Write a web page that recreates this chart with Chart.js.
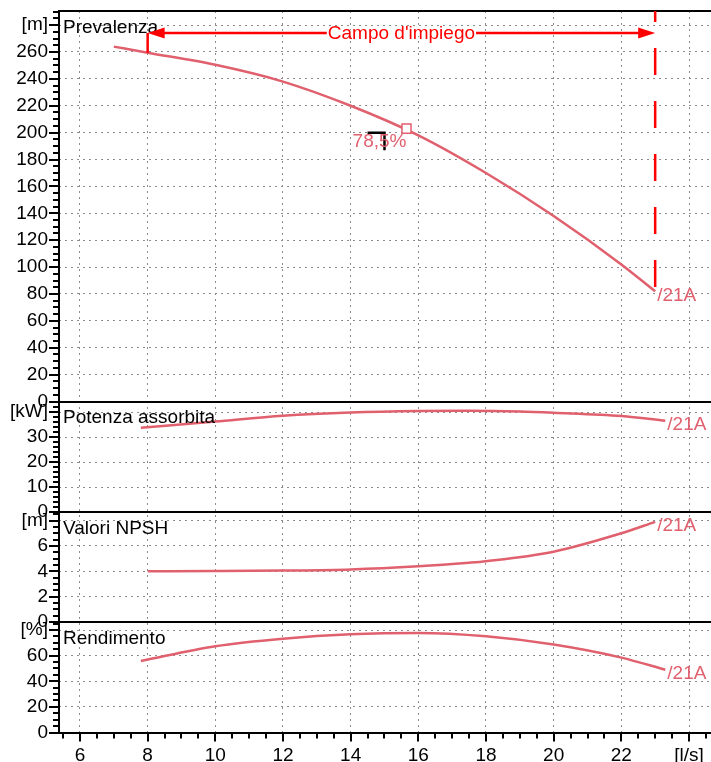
<!DOCTYPE html>
<html>
<head>
<meta charset="utf-8">
<script src="https://cdn.jsdelivr.net/npm/chart.js@4.4.1/dist/chart.umd.min.js"></script>
<style>
  html, body { margin: 0; padding: 0; background: #fff; }
  canvas { display: block; }
</style>
</head>
<body>
<canvas id="grafico" width="711" height="762"></canvas>
<script>
// Curve (portata in l/s)
const portataH = [7, 8, 10, 12, 14, 16, 18, 20, 22, 23];
const prevalenza = [264, 259.5, 250.5, 238, 220, 198, 170, 138, 102, 82];

const portataP = [7.8, 10, 12, 14, 16, 17.5, 19, 20, 22, 23.3];
const potenza = [33.7, 36.2, 38.5, 39.8, 40.4, 40.5, 40.2, 39.7, 38.4, 36.5];

const portataN = [8, 10, 12, 14, 16, 17.5, 18, 20, 22, 23];
const npsh = [4.0, 4.02, 4.06, 4.15, 4.4, 4.68, 4.8, 5.55, 7.0, 7.9];

const portataR = [7.8, 10, 12, 14, 16, 18, 20, 22, 23.3];
const rendimento = [55.9, 67.4, 73.3, 76.7, 77.7, 75.1, 68.7, 58.5, 49];

// Punto di miglior rendimento e squadretta nera
const bepQ = [15.65];
const bepH = [203];
const bepTesto = '78,5%';
const squadraQ = [14.5, 15, 15];
const squadraH = [200, 200, 187];

// Campo d'impiego
const campoQ = [8, 23];
const campoQuota = 274;
const campoBase = [259.5, 82];

// Pannelli: titoli, unità, valori massimi
const titoli = ['Prevalenza', 'Potenza assorbita', 'Valori NPSH', 'Rendimento'];
const unita = ['[m]', '[kW]', '[m]', '[%]'];
const valoreUnita = [280, 40, 8, 80];
const passi = [20, 10, 2, 20];
const passiMinori = [5, 2, 0.5, 5];
const massimi = [290.5, 44.2, 8.68, 86.3];
const pesi = [390.5, 110.5, 110, 110.5];
const idAssi = ['yH', 'yP', 'yN', 'yR'];
const etichettaCurva = '/21A';

const colCurva = '#e0606e';
const rosso = '#ff0000';
const famiglia = '"Liberation Sans", Arial, sans-serif';
const font19 = '19px ' + famiglia;

function punti(xs, ys) {
    return xs.map((x, i) => ({ x: x, y: ys[i] }));
}

function curva(xs, ys, asse) {
    return {
        data: punti(xs, ys),
        yAxisID: asse,
        borderColor: colCurva,
        borderWidth: 2.5,
        pointRadius: 0,
        cubicInterpolationMode: 'monotone',
        fill: false,
        order: 1
    };
}

// Assi y impilati, uno per pannello
const scale = {};
idAssi.forEach((id, i) => {
    scale[id] = {
        type: 'linear',
        position: 'left',
        stack: 'pannelli',
        stackWeight: pesi[i],
        weight: 4 - i,
        min: 0,
        max: massimi[i],
        ticks: {
            stepSize: passi[i],
            includeBounds: false,
            autoSkip: false,
            padding: 11,
            color: '#000',
            font: { family: famiglia, size: 19 },
            callback: v => Math.abs(v - valoreUnita[i]) < 1e-6 ? unita[i] : String(v)
        },
        grid: { color: '#8c8c8c', lineWidth: 1, drawTicks: false },
        border: { display: false, dash: [2, 4] },
        afterFit: s => { s.width = 59; s.paddingTop = 0; s.paddingBottom = 0; }
    };
});

scale.x = {
    type: 'linear',
    position: 'bottom',
    min: 5.38,
    max: 24.65,
    ticks: {
        stepSize: 2,
        includeBounds: false,
        autoSkip: false,
        maxRotation: 0,
        padding: 12,
        color: '#000',
        font: { family: famiglia, size: 19 },
        callback: v => v === 24 ? '[l/s]' : String(v)
    },
    grid: { color: '#8c8c8c', lineWidth: 1, drawTicks: false },
    border: { display: false, dash: [2, 4] },
    afterFit: s => { s.height = 29.5; s.paddingLeft = 0; s.paddingRight = 0; }
};

// Cornici, tacche, testi e annotazioni
const disegniExtra = {
    id: 'disegniExtra',
    afterDraw(chart) {
        const ctx = chart.ctx;
        const area = chart.chartArea;
        const sx = chart.scales.x;
        const yH = chart.scales.yH;

        ctx.save();

        // tacche asse y
        ctx.strokeStyle = '#000';
        ctx.lineWidth = 2;
        idAssi.forEach((id, i) => {
            const s = chart.scales[id];
            const n = Math.floor(massimi[i] / passiMinori[i] + 1e-6);
            for (let k = 0; k <= n; k++) {
                const v = k * passiMinori[i];
                const maggiore = Math.abs(v / passi[i] - Math.round(v / passi[i])) < 1e-6;
                const y = Math.round(s.getPixelForValue(v));
                ctx.beginPath();
                ctx.moveTo(area.left - (maggiore ? 10 : 6), y);
                ctx.lineTo(area.left, y);
                ctx.stroke();
            }
        });

        // tacche asse x
        for (let v = Math.ceil(sx.min * 2) / 2; v <= sx.max; v += 0.5) {
            const maggiore = Math.abs(v / 2 - Math.round(v / 2)) < 1e-6;
            const x = Math.round(sx.getPixelForValue(v));
            ctx.beginPath();
            ctx.moveTo(x, area.bottom);
            ctx.lineTo(x, area.bottom + (maggiore ? 9 : 6));
            ctx.stroke();
        }

        // cornici dei pannelli
        ctx.lineWidth = 2;
        idAssi.forEach(id => {
            const y = Math.round(chart.scales[id].top);
            ctx.beginPath();
            ctx.moveTo(area.left - 1, y);
            ctx.lineTo(area.right, y);
            ctx.stroke();
        });
        ctx.beginPath();
        ctx.moveTo(area.left - 1, Math.round(area.bottom));
        ctx.lineTo(area.right, Math.round(area.bottom));
        ctx.moveTo(area.left, area.top);
        ctx.lineTo(area.left, area.bottom);
        ctx.stroke();

        // titoli dei pannelli
        ctx.font = font19;
        ctx.fillStyle = '#000';
        ctx.textAlign = 'left';
        ctx.textBaseline = 'alphabetic';
        idAssi.forEach((id, i) => {
            ctx.fillText(titoli[i], area.left + 4, chart.scales[id].top + 21.5);
        });

        // etichette a fine curva
        ctx.fillStyle = colCurva;
        ctx.textBaseline = 'middle';
        [[portataH, prevalenza, 'yH'], [portataP, potenza, 'yP'],
         [portataN, npsh, 'yN'], [portataR, rendimento, 'yR']].forEach(c => {
            const q = c[0][c[0].length - 1];
            const v = c[1][c[1].length - 1];
            const s = chart.scales[c[2]];
            ctx.fillText(etichettaCurva, sx.getPixelForValue(q) + 2, s.getPixelForValue(v) + 4);
        });

        // rendimento nel punto di lavoro
        ctx.textAlign = 'right';
        ctx.textBaseline = 'alphabetic';
        ctx.fillText(bepTesto, sx.getPixelForValue(bepQ[0]), yH.getPixelForValue(bepH[0]) + 18);

        // campo d'impiego
        const xa = sx.getPixelForValue(campoQ[0]);
        const xb = sx.getPixelForValue(campoQ[1]);
        const yc = Math.round(yH.getPixelForValue(campoQuota));
        ctx.strokeStyle = rosso;
        ctx.fillStyle = rosso;
        ctx.lineWidth = 2.5;

        ctx.beginPath();
        ctx.moveTo(xa, yH.getPixelForValue(campoBase[0]));
        ctx.lineTo(xa, yc);
        ctx.moveTo(xa + 10, yc);
        ctx.lineTo(xb - 10, yc);
        ctx.stroke();

        // punte delle frecce
        ctx.beginPath();
        ctx.moveTo(xa, yc);
        ctx.lineTo(xa + 17, yc - 5.5);
        ctx.lineTo(xa + 17, yc + 5.5);
        ctx.closePath();
        ctx.moveTo(xb, yc);
        ctx.lineTo(xb - 17, yc - 5.5);
        ctx.lineTo(xb - 17, yc + 5.5);
        ctx.closePath();
        ctx.fill();

        // tratteggio al limite destro
        ctx.setLineDash([27, 26]);
        ctx.lineDashOffset = 16;
        ctx.beginPath();
        ctx.moveTo(xb, area.top);
        ctx.lineTo(xb, yH.getPixelForValue(campoBase[1]));
        ctx.stroke();
        ctx.setLineDash([]);

        // testo con fondo bianco
        const testo = "Campo d'impiego";
        const w = ctx.measureText(testo).width;
        const xm = (xa + xb) / 2;
        ctx.fillStyle = '#fff';
        ctx.fillRect(xm - w / 2 - 1, yc - 3, w + 2, 6);
        ctx.fillStyle = rosso;
        ctx.textAlign = 'center';
        ctx.textBaseline = 'middle';
        ctx.fillText(testo, xm, yc + 1);

        ctx.restore();
    }
};

new Chart(document.getElementById('grafico'), {
    type: 'line',
    data: {
        datasets: [
            {
                data: punti(bepQ, bepH),
                yAxisID: 'yH',
                showLine: false,
                pointStyle: 'rect',
                pointRadius: 6.4,
                pointBackgroundColor: '#fff',
                pointBorderColor: colCurva,
                pointBorderWidth: 1.5,
                order: 0
            },
            {
                data: punti(squadraQ, squadraH),
                yAxisID: 'yH',
                borderColor: '#000',
                borderWidth: 2.5,
                pointRadius: 0,
                tension: 0,
                order: 0
            },
            curva(portataH, prevalenza, 'yH'),
            curva(portataP, potenza, 'yP'),
            curva(portataN, npsh, 'yN'),
            curva(portataR, rendimento, 'yR')
        ]
    },
    options: {
        responsive: false,
        animation: false,
        devicePixelRatio: 1,
        layout: { autoPadding: false, padding: { top: 11, left: 0, right: 0, bottom: 0 } },
        plugins: { legend: { display: false }, tooltip: { enabled: false } },
        scales: scale
    },
    plugins: [disegniExtra]
});
</script>
</body>
</html>
